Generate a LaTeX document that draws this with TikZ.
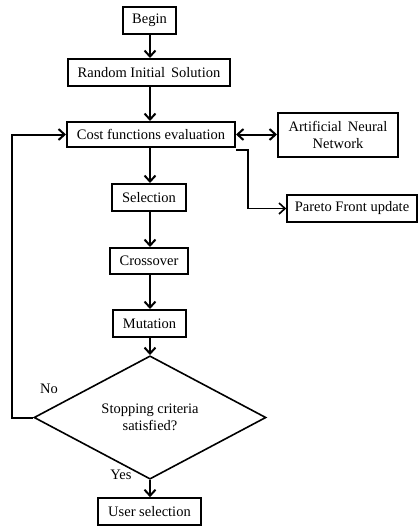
\documentclass[tikz,border=0pt]{standalone}
\usepackage{fontspec}
\setmainfont{Liberation Serif}
\usetikzlibrary{arrows.meta,shapes.geometric,calc}
\begin{document}
\begin{tikzpicture}[x=1pt,y=-1pt,
  font=\fontsize{14.5}{16.5}\selectfont,
  tip/.tip={Straight Barb[length=6pt,width=11pt]},
  box/.style={draw,line width=2pt,inner sep=0pt,align=center},
  conn/.style={line width=2pt,-tip},
  thin conn/.style={line width=1.6pt,-tip}]
\useasboundingbox (0,0) rectangle (418,527);
\node[box,minimum width=53pt,minimum height=27pt] (begin) at (149.5,20.5) {Begin};
\node[box,minimum width=162pt,minimum height=27pt] (rand) at (149,72.5) {Random Initial\, Solution};
\node[box,minimum width=168pt,minimum height=25pt] (cost) at (151,134.5) {Cost functions evaluation};
\node[box,minimum width=120pt,minimum height=44pt] (ann) at (338,135) {Artificial\, Neural\\Network};
\node[box,minimum width=74pt,minimum height=27pt] (sel) at (149,197.5) {Selection};
\node[box,minimum width=78pt,minimum height=26pt] (cross) at (149,261) {Crossover};
\node[box,minimum width=73pt,minimum height=27pt] (mut) at (149.5,323.5) {Mutation};
\node[box,line width=1.6pt,minimum width=130pt,minimum height=27pt] (pareto) at (352,208.5) {Pareto Front update};
\node[draw,diamond,line width=1.6pt,minimum width=232pt,minimum height=87pt,inner sep=0pt,align=center] (dec) at (150,417.5) {Stopping criteria\\satisfied?};
\node[box,line width=1.6pt,minimum width=103pt,minimum height=27pt] (user) at (149.5,511.5) {User selection};
\node (no) at (49,389) {No};
\node (yes) at (121,475) {Yes};
\coordinate (axis) at (150,0);
\coordinate (pstart) at ($(cost.south east)+(0,2)$);
\coordinate (fb) at (12,0);
\draw[conn] (axis |- begin.south) -- (axis |- rand.north);
\draw[conn] (axis |- rand.south) -- (axis |- cost.north);
\draw[conn] (axis |- cost.south) -- (axis |- sel.north);
\draw[conn] (axis |- sel.south) -- (axis |- cross.north);
\draw[conn] (axis |- cross.south) -- (axis |- mut.north);
\draw[conn] (axis |- mut.south) -- (dec.north);
\draw[conn] (dec.south) -- (axis |- user.north);
\draw[line width=2pt,tip-tip] (cost.east) -- (ann.west |- cost.east);
\draw[thin conn] (pstart) -- ++(12,0) |- (pareto.west);
\draw[conn] (dec.west) -| (fb |- cost.west) -- (cost.west);
\end{tikzpicture}
\end{document}
